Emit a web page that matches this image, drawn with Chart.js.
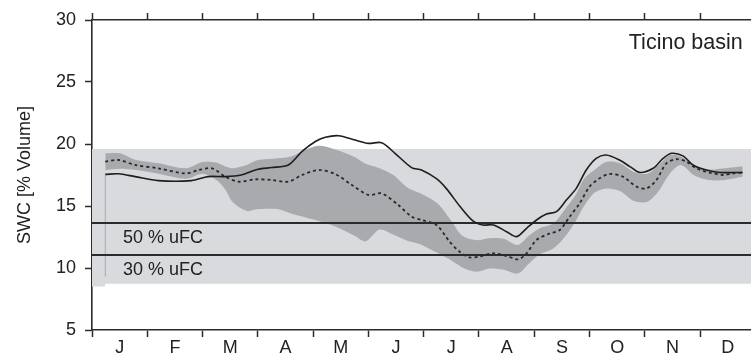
<!DOCTYPE html>
<html lang="en">
<head>
    <meta charset="UTF-8">
    <title>SWC - Ticino basin</title>
    <style>
        body {
            margin: 0;
            background-color: white;
            overflow: hidden;
        }

        #swcChart {
            display: block;
        }
    </style>
</head>
<body>
    <canvas id="swcChart" width="751" height="355"></canvas>

    <script src="https://cdn.jsdelivr.net/npm/chart.js"></script>
    <script>
        // axis labels
        var monthLabels = ['J', 'F', 'M', 'A', 'M', 'J', 'J', 'A', 'S', 'O', 'N', 'D'];
        var yTickValues = [5, 10, 15, 20, 25, 30];

        // soil water content, current year (solid)
        var solidMonths = [0.24, 0.48, 0.78, 1.2, 1.8, 2.1, 2.4, 2.7, 3.0, 3.25, 3.55, 3.8, 4.04, 4.22, 4.46, 4.76, 5.0, 5.24, 5.48, 5.78, 5.96, 6.23, 6.41, 6.65, 6.89, 7.07, 7.26, 7.5, 7.68, 7.86, 8.04, 8.22, 8.4, 8.58, 8.76, 8.94, 9.12, 9.3, 9.54, 9.73, 9.91, 10.15, 10.33, 10.48, 10.69, 10.87, 11.11, 11.35, 11.59, 11.77];
        var solidSwc = [17.55, 17.6, 17.37, 17.05, 17.05, 17.37, 17.37, 17.5, 17.96, 18.1, 18.3, 19.4, 20.2, 20.54, 20.67, 20.32, 20.05, 20.1, 19.25, 18.1, 17.9, 17.2, 16.4, 15.0, 13.8, 13.47, 13.47, 12.93, 12.53, 13.2, 13.87, 14.35, 14.54, 15.48, 16.42, 17.9, 18.84, 19.11, 18.71, 18.18, 17.7, 18.04, 18.84, 19.25, 19.04, 18.31, 17.9, 17.7, 17.7, 17.7];

        // mean of reference years (dashed)
        var dashedMonths = [0.24, 0.48, 0.78, 1.2, 1.69, 1.93, 2.17, 2.41, 2.65, 2.95, 3.25, 3.55, 3.8, 4.1, 4.4, 4.7, 5.0, 5.24, 5.54, 5.78, 5.96, 6.23, 6.47, 6.65, 6.83, 7.01, 7.26, 7.5, 7.71, 7.86, 8.04, 8.28, 8.46, 8.64, 8.82, 9.0, 9.18, 9.36, 9.6, 9.85, 10.03, 10.21, 10.39, 10.57, 10.75, 10.93, 11.17, 11.41, 11.59, 11.77];
        var dashedSwc = [18.58, 18.71, 18.31, 18.04, 17.63, 17.9, 18.04, 17.37, 16.96, 17.15, 17.1, 16.96, 17.5, 17.9, 17.58, 16.69, 15.89, 16.02, 15.08, 14.14, 13.87, 13.47, 12.12, 11.31, 10.86, 10.92, 11.18, 10.97, 10.7, 11.18, 12.26, 12.79, 13.06, 14.14, 15.21, 16.56, 17.23, 17.58, 17.37, 16.56, 16.42, 17.1, 18.44, 18.77, 18.58, 18.04, 17.7, 17.5, 17.63, 17.7];

        // spread around the mean (dark band)
        var bandMonths = [0.24, 0.5, 0.8, 1.2, 1.7, 2.0, 2.25, 2.4, 2.55, 2.8, 3.0, 3.35, 3.6, 3.85, 4.1, 4.4, 4.75, 4.95, 5.2, 5.45, 5.7, 5.95, 6.25, 6.5, 6.7, 6.95, 7.2, 7.45, 7.7, 7.9, 8.1, 8.35, 8.55, 8.75, 8.9, 9.1, 9.3, 9.55, 9.8, 10.05, 10.25, 10.45, 10.65, 10.9, 11.15, 11.45, 11.77];
        var bandUpper = [19.25, 19.25, 18.7, 18.45, 18.05, 18.55, 18.5, 18.2, 18.05, 18.3, 18.7, 18.85, 19.0, 19.5, 19.85, 19.55, 18.95, 18.4, 18.05, 17.5, 16.5, 16.0, 15.2, 13.8, 12.6, 12.25, 12.4, 12.35, 11.85, 12.6, 13.2, 13.6, 14.7, 15.9, 17.2, 17.95, 18.55, 18.45, 17.75, 17.6, 18.3, 19.1, 19.0, 18.3, 17.95, 18.05, 18.2];
        var bandLower = [17.9, 18.0, 17.9, 17.6, 17.2, 17.6, 17.1, 16.4, 15.3, 14.6, 14.75, 14.75, 14.4, 14.1, 13.8, 13.35, 12.6, 12.15, 13.1, 12.7, 12.2, 11.9, 11.2, 10.6, 10.05, 9.7, 9.95, 9.85, 9.55, 10.35, 11.1, 11.6, 12.5, 13.8, 15.0, 16.1, 16.4, 16.2, 15.4, 15.35, 16.2, 17.6, 18.3, 17.45, 17.1, 17.1, 17.35];

        // full range (light band), its left edge, and usable field capacity levels
        var rangeMonths = [0, 0.23, 0.24, 11.92];
        var rangeTop = [19.6, 19.6, 19.6, 19.6];
        var rangeBottom = [8.5, 8.5, 8.72, 8.72];
        var edgeMonths = [0.24, 0.24];
        var edgeSwc = [9.3, 17.5];
        var uFC50 = 13.62;
        var uFC30 = 11.05;

        var xMax = 11.92;
        var axisColor = '#2b2b2b';
        var fontFamily = '"Liberation Sans", Arial, Helvetica, sans-serif';

        function toPoints(xs, ys) {
            return xs.map(function (x, i) { return { x: x, y: ys[i] }; });
        }

        function flatLine(value) {
            return [{ x: 0, y: value }, { x: xMax, y: value }];
        }

        // free text inside the plot
        var plotText = {
            id: 'plotText',
            afterDatasetsDraw: function (chart) {
                var ctx = chart.ctx;
                var x = chart.scales.x;
                var y = chart.scales.y;
                ctx.save();
                ctx.fillStyle = '#222';
                ctx.textBaseline = 'middle';
                ctx.textAlign = 'left';
                ctx.font = '18px ' + fontFamily;
                ctx.fillText('50 % uFC', x.getPixelForValue(0.56), y.getPixelForValue(12.42));
                ctx.fillText('30 % uFC', x.getPixelForValue(0.56), y.getPixelForValue(9.84));
                ctx.textAlign = 'right';
                ctx.font = '21.5px ' + fontFamily;
                ctx.fillText('Ticino basin', x.getPixelForValue(11.77), y.getPixelForValue(28.1));
                ctx.restore();
            }
        };

        document.addEventListener('DOMContentLoaded', function () {
            Chart.defaults.font.family = fontFamily;
            Chart.defaults.color = '#222';

            var ctx = document.getElementById('swcChart').getContext('2d');

            var lineBase = { pointRadius: 0, tension: 0.3, fill: false };

            new Chart(ctx, {
                type: 'line',
                data: {
                    datasets: [
                        Object.assign({}, lineBase, {
                            data: toPoints(solidMonths, solidSwc),
                            borderColor: '#1e1e1e',
                            borderWidth: 1.6
                        }),
                        Object.assign({}, lineBase, {
                            data: toPoints(dashedMonths, dashedSwc),
                            borderColor: '#2a2a2a',
                            borderWidth: 1.8,
                            borderDash: [3, 3]
                        }),
                        Object.assign({}, lineBase, {
                            data: flatLine(uFC50),
                            borderColor: axisColor,
                            borderWidth: 2,
                            tension: 0
                        }),
                        Object.assign({}, lineBase, {
                            data: flatLine(uFC30),
                            borderColor: axisColor,
                            borderWidth: 2,
                            tension: 0
                        }),
                        Object.assign({}, lineBase, {
                            data: toPoints(edgeMonths, edgeSwc),
                            borderColor: 'rgba(140, 140, 145, 0.6)',
                            borderWidth: 1,
                            tension: 0
                        }),
                        Object.assign({}, lineBase, {
                            data: toPoints(bandMonths, bandUpper),
                            borderWidth: 0,
                            borderColor: 'transparent',
                            backgroundColor: '#a9aaad',
                            fill: '+1'
                        }),
                        Object.assign({}, lineBase, {
                            data: toPoints(bandMonths, bandLower),
                            borderWidth: 0,
                            borderColor: 'transparent'
                        }),
                        Object.assign({}, lineBase, {
                            data: toPoints(rangeMonths, rangeTop),
                            borderWidth: 0,
                            borderColor: 'transparent',
                            backgroundColor: '#d9dadd',
                            fill: '+1',
                            tension: 0
                        }),
                        Object.assign({}, lineBase, {
                            data: toPoints(rangeMonths, rangeBottom),
                            borderWidth: 0,
                            borderColor: 'transparent',
                            tension: 0
                        })
                    ]
                },
                options: {
                    responsive: false,
                    animation: false,
                    devicePixelRatio: 1,
                    layout: { padding: 0 },
                    plugins: {
                        legend: { display: false },
                        tooltip: { enabled: false }
                    },
                    scales: {
                        x: {
                            type: 'linear',
                            position: 'bottom',
                            min: 0,
                            max: xMax,
                            afterBuildTicks: function (scale) {
                                var ticks = [];
                                for (var i = 0; i < 12; i++) {
                                    ticks.push({ value: i });
                                    ticks.push({ value: i + 0.5 });
                                }
                                scale.ticks = ticks;
                            },
                            afterFit: function (scale) { scale.height = 25; },
                            border: { color: axisColor, width: 1.6 },
                            grid: {
                                drawOnChartArea: false,
                                tickLength: 7,
                                tickWidth: 1.5,
                                tickColor: function (c) {
                                    return Number.isInteger(c.tick.value) ? axisColor : 'transparent';
                                }
                            },
                            ticks: {
                                autoSkip: false,
                                maxRotation: 0,
                                minRotation: 0,
                                padding: 0,
                                font: { size: 18 },
                                callback: function (value) {
                                    return Number.isInteger(value) ? '' : monthLabels[Math.floor(value)];
                                }
                            }
                        },
                        xTop: {
                            type: 'linear',
                            position: 'top',
                            min: 0,
                            max: xMax,
                            afterBuildTicks: function (scale) {
                                scale.ticks = monthLabels.map(function (m, i) { return { value: i }; });
                            },
                            afterFit: function (scale) { scale.height = 20; },
                            border: { color: axisColor, width: 1.6 },
                            grid: {
                                drawOnChartArea: false,
                                tickLength: 7,
                                tickWidth: 1.5,
                                tickColor: axisColor
                            },
                            ticks: { display: false }
                        },
                        y: {
                            min: 5,
                            max: 30,
                            afterBuildTicks: function (scale) {
                                scale.ticks = yTickValues.map(function (v) { return { value: v }; });
                            },
                            afterFit: function (scale) { scale.width = 92; },
                            border: { color: axisColor, width: 1.6 },
                            grid: {
                                drawOnChartArea: false,
                                tickLength: 7,
                                tickWidth: 1.5,
                                tickColor: axisColor
                            },
                            ticks: {
                                padding: 9,
                                font: { size: 18 }
                            },
                            title: {
                                display: true,
                                text: 'SWC [% Volume]',
                                font: { size: 18 },
                                padding: { top: 14, bottom: 0 }
                            }
                        }
                    }
                },
                plugins: [plotText]
            });
        });
    </script>
</body>
</html>
